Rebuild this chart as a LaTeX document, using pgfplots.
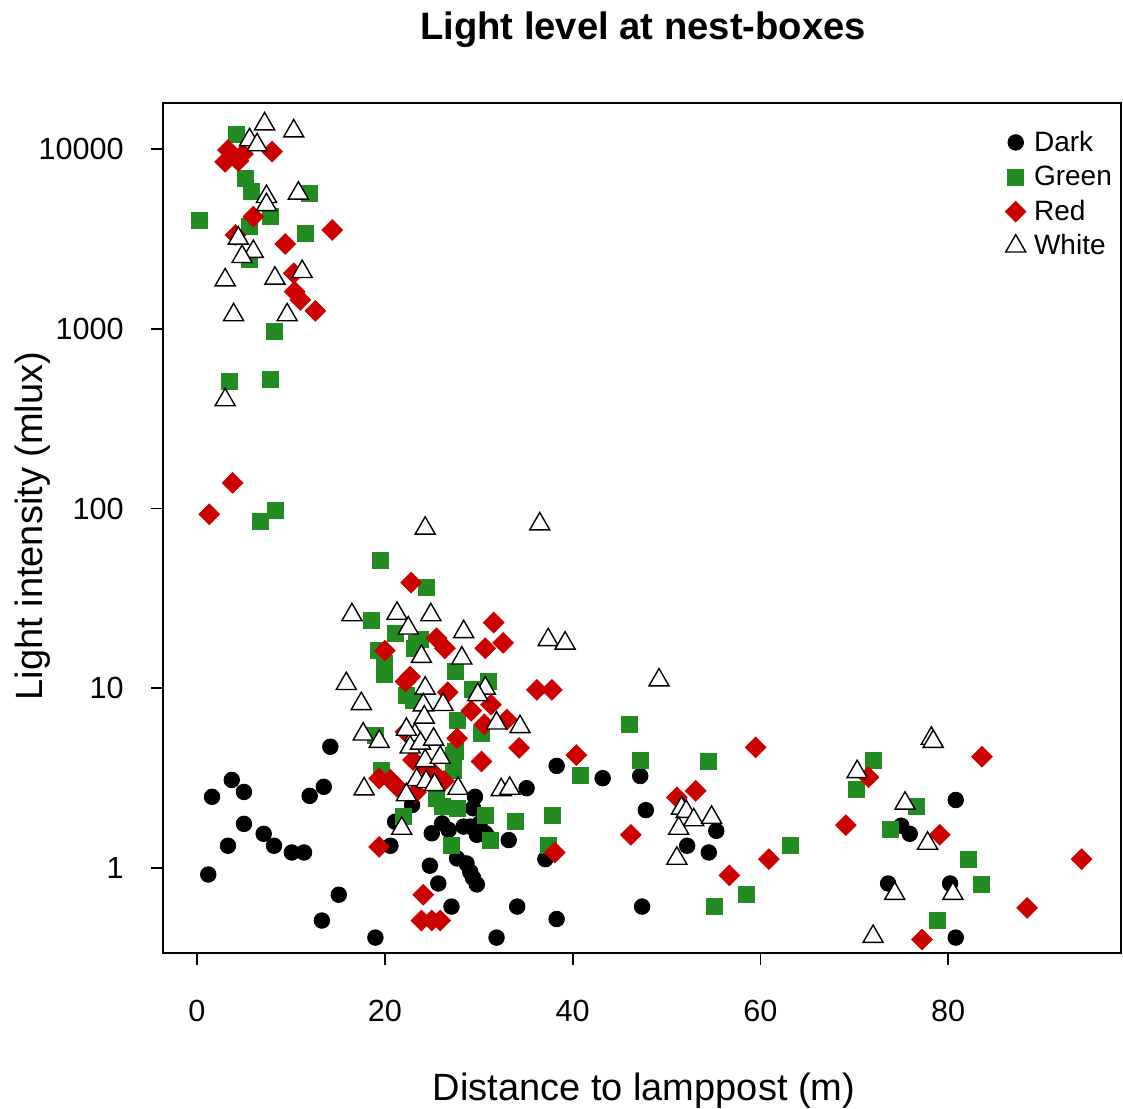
\documentclass[border=0pt]{standalone}
\usepackage{fontspec}
\setmainfont{Liberation Sans}
\usepackage{pgfplots}
\pgfplotsset{compat=1.18}
\definecolor{dgreen}{RGB}{34,139,34}
\definecolor{dred}{RGB}{205,0,0}
\begin{document}
\begin{tikzpicture}
\path[use as bounding box] (0,0) rectangle (561.5pt,554pt);
\begin{axis}[
  at={(81.5pt,77.5pt)}, anchor=south west,
  scale only axis, width=479pt, height=425pt,
  ymode=log, xmin=-3.62, xmax=98.4, ymin=0.3365, ymax=18070,
  axis line style={line width=0.9pt},
  xtick={0,20,40,60,80},
  ytick={1,10,100,1000,10000}, yticklabels={1,10,100,1000,10000},
  yminorticks=false, xminorticks=false,
  tick align=outside, xtick pos=bottom, ytick pos=left,
  major tick length=6pt,
  every tick/.style={black, line width=0.9pt},
  /pgf/number format/assume math mode=true,
  ticklabel style={font=\fontsize{15.3}{18}\selectfont},
  xticklabel style={anchor=north, inner sep=0pt, yshift=-17.5pt},
  yticklabel style={anchor=east, inner sep=0pt, xshift=-13.5pt},
  legend cell align=left,
  legend style={draw=none, fill=none, inner sep=0pt, at={(0.8789,0.9682)}, anchor=north west,
    font=\fontsize{14}{16}\selectfont, row sep=5.3pt, column sep=4pt,
    nodes={inner sep=0pt, anchor=west}},
  legend image code/.code={\path[draw=none, fill=none] (0pt,-6pt) rectangle (10pt,6pt);
    \draw[mark repeat=2,mark phase=2,#1] plot coordinates {(0pt,0pt) (5pt,0pt) (10pt,0pt)};},
]
% Dark
\addplot[only marks, mark=*, mark size=3.9pt, black, mark options={fill=black, draw=black}] coordinates {
(1.6,2.49) (3.7,3.09) (5.0,2.65) (5.0,1.76) (3.3,1.33) (1.2,0.92) (7.1,1.55) (8.2,1.33)
(10.1,1.22) (11.4,1.22) (14.2,4.73) (13.5,2.83) (12.0,2.52) (15.1,0.71) (13.3,0.51) (19.0,0.41)
(20.6,1.33) (21.1,1.81) (22.9,2.24) (25.0,1.56) (24.8,1.03) (25.7,0.82) (27.1,0.61) (26.1,1.77)
(26.8,1.63) (27.7,1.13) (28.7,1.06) (29.1,0.95) (29.4,0.88) (29.8,0.81) (28.4,1.70) (29.1,1.70)
(29.6,2.49) (29.4,2.15) (30.1,1.77) (30.7,1.56) (29.8,1.53) (31.0,1.49) (33.2,1.43) (35.1,2.78)
(38.3,3.70) (37.1,1.12) (34.1,0.61) (38.3,0.52) (31.9,0.41)
(43.2,3.16) (47.2,3.25) (47.8,2.10) (55.3,1.61) (52.2,1.33) (54.5,1.22) (47.4,0.61)
(80.8,2.39) (75.0,1.72) (75.9,1.55) (73.6,0.82) (80.2,0.82) (80.8,0.41)
};
\addlegendentry{Dark}
% Green
\addplot[only marks, mark=square*, mark size=4pt, dgreen, mark options={fill=dgreen, draw=dgreen}] coordinates {
(4.2,12160) (5.2,6840) (5.8,5800) (7.8,4210) (5.6,3700) (0.3,4000) (11.5,3400) (12.0,5710) (5.6,2420)
(8.2,965) (3.5,508) (7.8,525) (6.7,84.5) (8.3,98.3)
(19.5,51.3) (24.4,36.3) (18.6,24.0) (21.1,20.2) (19.3,16.3) (23.8,18.6) (20.0,13.8) (20.0,11.9)
(23.2,16.7) (27.5,12.4) (31.0,10.9) (29.3,9.8) (23.4,17.8) (23.0,8.6)
(27.7,6.66) (27.5,4.44) (30.3,5.62) (19.6,3.5) (19.0,5.49) (22.0,1.93) (25.5,2.44) (26.1,2.19)
(30.7,1.97) (22.3,9.18) (27.3,4.25) (27.3,3.51) (27.7,2.15) (31.2,1.43) (33.9,1.81) (37.8,1.97)
(37.4,1.34) (27.1,1.34) (40.8,3.27)
(46.1,6.33) (47.2,3.99) (54.5,3.91) (63.2,1.33) (58.5,0.71) (55.1,0.61)
(72.0,3.99) (70.2,2.72) (76.6,2.21) (73.8,1.63) (82.1,1.11) (83.5,0.81) (78.8,0.51)
};
\addlegendentry{Green}
% Red
\addplot[only marks, mark=square*, mark size=3.65pt, dred, mark options={fill=dred, draw=dred, rotate=45}] coordinates {
(3.3,9900) (4.9,9400) (3.0,8500) (4.4,8600) (8.0,9690) (6.0,4210) (4.1,3330) (9.4,2970) (14.4,3550)
(10.3,2040) (10.4,1610) (11.0,1450) (12.6,1260) (3.8,139) (1.3,93)
(22.8,38.7) (20.0,16.2) (25.5,19.0) (26.4,16.7) (31.6,23.2) (30.7,16.7) (32.6,17.9) (22.7,11.6)
(22.2,10.9) (36.2,9.8) (37.8,9.8) (26.7,9.5) (29.2,7.5) (31.3,8.1) (30.6,6.3) (22.2,5.73)
(27.7,5.27) (30.3,3.91) (23.0,3.99) (25.2,3.37) (26.3,3.05) (19.4,3.15) (20.6,3.09) (21.3,2.83)
(23.3,2.63) (24.3,3.66) (33.0,6.7) (34.3,4.66) (40.4,4.25)
(19.4,1.31) (24.1,0.71) (23.9,0.51) (25.0,0.51) (25.9,0.51) (38.1,1.22)
(46.2,1.53) (51.1,2.47) (53.1,2.69) (59.5,4.69) (56.7,0.91) (60.9,1.12)
(83.6,4.16) (71.5,3.2) (69.1,1.73) (79.1,1.53) (94.2,1.12) (88.4,0.60) (77.2,0.40) (69.6,0.30)
};
\addlegendentry{Red}
% White
\addplot[only marks, mark=triangle*, mark size=5.8pt, black, mark options={fill=white, draw=black, line width=0.7pt}] coordinates {
(7.2,13800) (10.3,12600) (5.6,11250) (6.4,10550) (7.4,5440) (7.4,4900) (10.8,5680) (4.4,3190)
(6.0,2690) (4.8,2520) (3.0,1870) (8.3,1910) (11.2,2080) (3.9,1195) (9.6,1195) (3.0,402)
(24.3,77.6) (36.5,82) (16.5,25.6) (21.3,26.1) (24.9,25.6) (22.5,21.6) (28.4,20.6) (37.4,18.6)
(39.2,17.8) (23.9,15.0) (28.2,14.7) (15.9,10.6)
(24.3,10.0) (30.7,10.0) (29.9,9.2) (24.1,8.07) (26.2,8.1) (24.2,6.9) (31.9,6.39) (34.4,6.1)
(19.4,5.05) (23.2,5.5) (22.7,4.7) (23.8,4.94) (25.2,5.2) (24.3,3.95) (25.9,4.12) (23.4,3.1)
(24.4,3.02) (25.3,2.9) (27.8,2.77) (22.3,2.55) (32.4,2.72) (33.3,2.77) (22.3,5.9)
(17.5,8.2) (17.7,5.55) (17.8,2.75) (21.8,1.66)
(49.2,11.1) (51.6,2.15) (52.1,2.06) (52.9,1.85) (54.8,1.91) (51.3,1.66) (51.1,1.13)
(78.2,5.26) (78.4,5.05) (70.3,3.43) (75.4,2.29) (77.8,1.37) (74.3,0.72) (80.5,0.72) (72.0,0.415)
};
\addlegendentry{White}
\end{axis}
\node[anchor=base, font=\bfseries\fontsize{19.1}{22}\selectfont] at (321.5pt,534pt) {Light level at nest-boxes};
\node[anchor=base, font=\fontsize{19}{22}\selectfont] at (322pt,4pt) {Distance to lamppost (m)};
\node[anchor=base, rotate=90, font=\fontsize{19}{22}\selectfont] at (21pt,291pt) {Light intensity (mlux)};
\end{tikzpicture}
\end{document}
